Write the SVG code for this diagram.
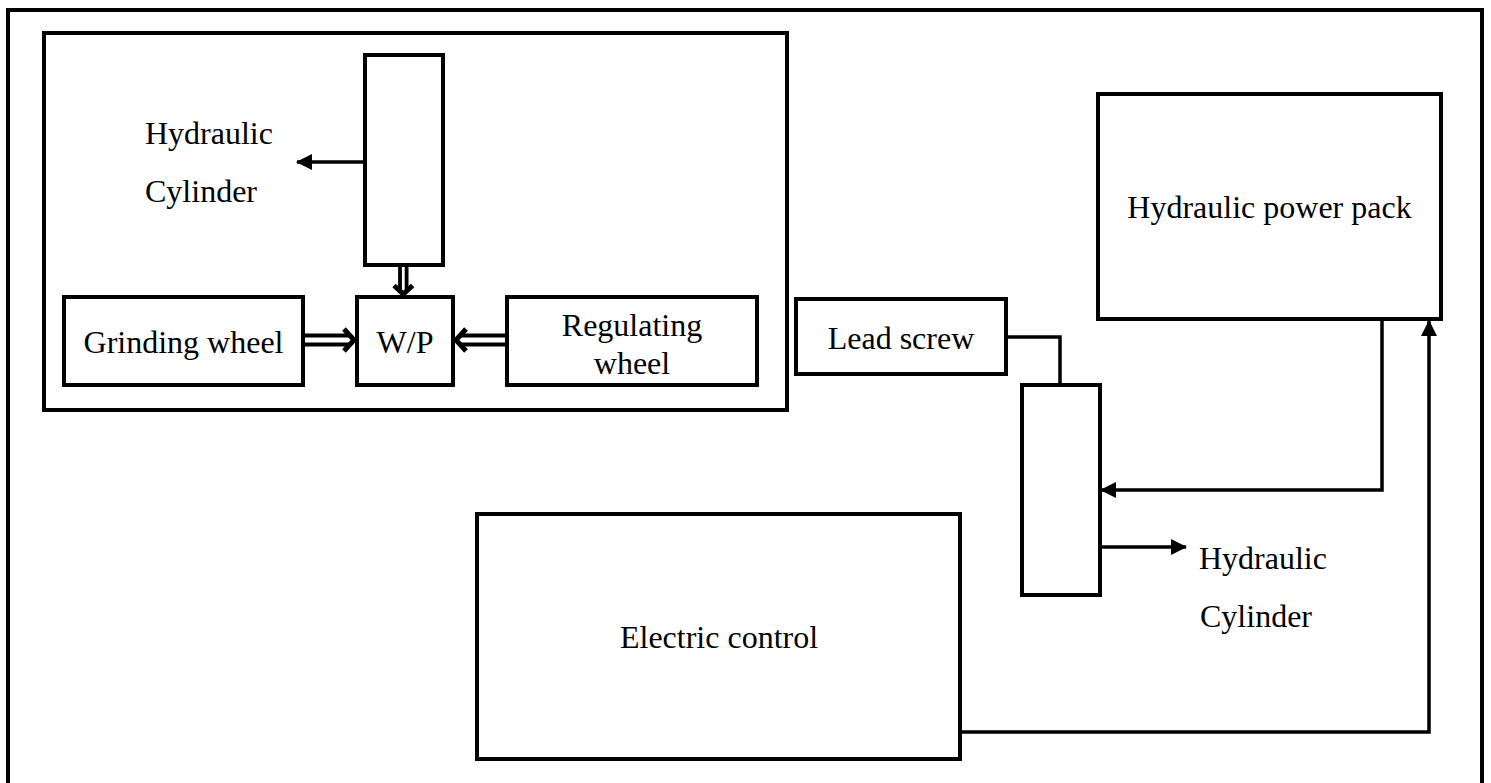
<svg xmlns="http://www.w3.org/2000/svg" width="1491" height="783" viewBox="0 0 1491 783">
<style>
.box{fill:#fff;stroke:#000;stroke-width:4}
.frame{fill:none;stroke:#000;stroke-width:4}
.ln{fill:none;stroke:#000;stroke-width:3.5}
.dbl{fill:none;stroke:#000;stroke-width:3.8;stroke-linejoin:miter}
.hd{fill:none;stroke:#000;stroke-width:5;stroke-linejoin:miter}
text{font-family:"Liberation Serif","Times New Roman",serif;font-size:32px;fill:#000}
.c{text-anchor:middle}
</style>
<defs>
<marker id="ah" markerUnits="userSpaceOnUse" markerWidth="16" markerHeight="16" refX="15" refY="8" orient="auto">
<path d="M0,0 L16,8 L0,16 z" fill="#000"/>
</marker>
</defs>
<rect fill="#fff" x="0" y="0" width="1491" height="783"/>
<rect class="frame" x="8" y="10" width="1474" height="790"/>
<g id="machine">
<rect class="frame" x="44" y="33" width="743" height="377"/>
</g>
<g id="cylinder-top">
<rect class="box" x="365" y="55" width="78" height="210"/>
<text x="145" y="144">Hydraulic</text>
<text x="145" y="202">Cylinder</text>
</g>
<g id="grinding-wheel">
<rect class="box" x="64" y="297" width="239" height="88"/>
<text class="c" x="183.5" y="353">Grinding wheel</text>
</g>
<g id="wp">
<rect class="box" x="357" y="297" width="96" height="88"/>
<text class="c" x="405" y="353">W/P</text>
</g>
<g id="regulating-wheel">
<rect class="box" x="507" y="297" width="250" height="88"/>
<text class="c" x="632" y="336">Regulating</text>
<text class="c" x="632" y="374">wheel</text>
</g>
<g id="lead-screw">
<rect class="box" x="796" y="299" width="210" height="75"/>
<text class="c" x="901" y="349">Lead screw</text>
</g>
<g id="power-pack">
<rect class="box" x="1098" y="94" width="343" height="225"/>
<text class="c" x="1269.5" y="218">Hydraulic power pack</text>
</g>
<g id="cylinder-right">
<rect class="box" x="1022" y="385" width="78" height="210"/>
<text x="1199" y="569">Hydraulic</text>
<text x="1200" y="627">Cylinder</text>
</g>
<g id="electric-control">
<rect class="box" x="477" y="514" width="483" height="245"/>
<text class="c" x="719" y="648">Electric control</text>
</g>
<g id="connectors">
<line class="ln" x1="365" y1="162" x2="297" y2="162" marker-end="url(#ah)"/>
<path class="dbl" d="M400,265 V290 M406.6,265 V290"/>
<path class="hd" d="M394,285.5 L403.3,294 L412.6,285.5"/>
<path class="dbl" d="M303,335.5 H351 M303,344.5 H351"/>
<path class="hd" d="M344,329 L354,340 L344,351"/>
<path class="dbl" d="M507,335.5 H459 M507,344.5 H459"/>
<path class="hd" d="M466,329 L456,340 L466,351"/>
<path class="ln" d="M1006,337 H1060 V385"/>
<path class="ln" d="M1382,319 V490 H1101" marker-end="url(#ah)"/>
<line class="ln" x1="1100" y1="547" x2="1186" y2="547" marker-end="url(#ah)"/>
<path class="ln" d="M960,732 H1429 V321" marker-end="url(#ah)"/>
</g>
</svg>
